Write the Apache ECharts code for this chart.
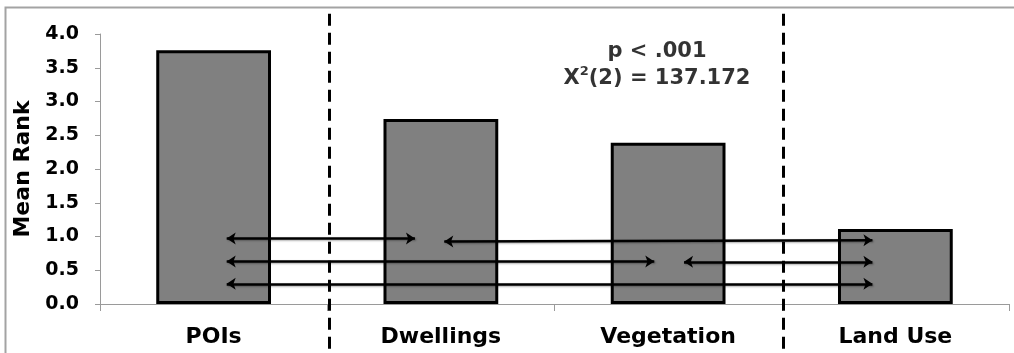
<!DOCTYPE html>
<html>
<head>
<meta charset="utf-8">
<script src="https://cdn.jsdelivr.net/npm/echarts@6/dist/echarts.min.js"></script>
<style>
html,body{margin:0;padding:0;background:#fff;}
#chart{width:1014px;height:353px;}
</style>
</head>
<body>
<div id="chart"></div>
<script>
// ---- data ----
const categories = ['POIs', 'Dwellings', 'Vegetation', 'Land Use'];
const meanRanks = [3.76, 2.74, 2.39, 1.11];
const yMin = 0, yMax = 4, yStep = 0.5;
// pairwise comparison arrows, in (category-position, mean-rank) units
const arrowStarts = [[0.5575, 0.97], [1.515, 0.925], [0.5575, 0.63], [2.570, 0.625], [0.5575, 0.30]];
const arrowEnds   = [[1.386, 0.97], [3.399, 0.945], [2.439, 0.63], [3.399, 0.625], [3.399, 0.30]];
// dashed group dividers, in category-position units
const dividerX = [1.01, 3.005];
const dividerYRange = [4.30, -0.8];
// statistics annotation
const statLine1 = 'p < .001';
const statChi = 'Χ';
const statSup = '2';
const statRest = '(2) = 137.172';
const statAnchor = [2.451, 3.54];

const FONT = 'DejaVu Sans';
const chart = echarts.init(document.getElementById('chart'), null, {renderer: 'canvas'});

const option = {
  animation: false,
  backgroundColor: '#ffffff',
  textStyle: {fontFamily: FONT, fontWeight: 'bold', color: '#000'},
  graphic: [{
    type: 'rect', silent: true, z: -10,
    shape: {x: 5.5, y: 7.5, width: 1100, height: 400},
    style: {fill: 'none', stroke: '#a3a3a3', lineWidth: 2}
  }],
  grid: {left: 100, right: 5, top: 34, bottom: 49, containLabel: false, outerBoundsMode: 'none'},
  xAxis: [{
    type: 'category',
    data: categories,
    boundaryGap: true,
    axisLine: {show: true, lineStyle: {color: '#9a9a9a', width: 1}},
    axisTick: {show: true, length: 7, alignWithLabel: false, lineStyle: {color: '#9a9a9a'}},
    axisLabel: {fontFamily: FONT, fontWeight: 'bold', fontSize: 22, color: '#000', margin: 22, interval: 0},
    splitLine: {show: false}
  }, {
    type: 'value', min: 0, max: categories.length, show: false, position: 'bottom'
  }],
  yAxis: [{
    type: 'value',
    min: yMin, max: yMax, interval: yStep,
    name: 'Mean Rank',
    nameLocation: 'middle',
    nameGap: 60,
    nameRotate: 90,
    nameTextStyle: {fontFamily: FONT, fontWeight: 'bold', fontSize: 22, color: '#000'},
    axisLine: {show: true, lineStyle: {color: '#9a9a9a', width: 1}},
    axisTick: {show: true, length: 5, lineStyle: {color: '#9a9a9a'}},
    axisLabel: {fontFamily: FONT, fontWeight: 'bold', fontSize: 19, color: '#000', margin: 21,
      formatter: v => v.toFixed(1)},
    splitLine: {show: false}
  }],
  series: [{
    type: 'bar',
    data: meanRanks,
    barWidth: '50.5%',
    itemStyle: {color: '#808080', borderColor: '#000', borderWidth: 3},
    silent: true,
    z: 2
  }, {
    type: 'lines',
    coordinateSystem: 'cartesian2d',
    xAxisIndex: 1, yAxisIndex: 0,
    clip: false,
    silent: true,
    z: 5,
    symbol: ['arrow', 'arrow'],
    symbolSize: 9,
    lineStyle: {color: '#000', width: 2.5, opacity: 1, curveness: 0,
      shadowColor: 'rgba(0,0,0,0.35)', shadowBlur: 2, shadowOffsetX: 1, shadowOffsetY: 1},
    data: arrowStarts.map((s, i) => ({coords: [s, arrowEnds[i]]}))
  }, {
    type: 'lines',
    coordinateSystem: 'cartesian2d',
    xAxisIndex: 1, yAxisIndex: 0,
    clip: false,
    silent: true,
    z: 6,
    symbol: ['none', 'none'],
    lineStyle: {color: '#000', width: 3, opacity: 1, type: [12, 7]},
    data: dividerX.map(x => ({coords: [[x, dividerYRange[0]], [x, dividerYRange[1]]]}))
  }, {
    type: 'scatter',
    xAxisIndex: 1, yAxisIndex: 0,
    silent: true,
    symbolSize: 1,
    itemStyle: {color: 'rgba(0,0,0,0)'},
    z: 7,
    data: [statAnchor],
    label: {
      show: true,
      position: 'inside',
      align: 'center',
      verticalAlign: 'middle',
      formatter: '{a|' + statLine1 + '}\n{a|' + statChi + '}{s|' + statSup + '}{a|' + statRest + '}',
      rich: {
        a: {fontFamily: FONT, fontWeight: 'bold', fontSize: 21, color: '#000', lineHeight: 27},
        s: {fontFamily: FONT, fontWeight: 'bold', fontSize: 13, color: '#000', lineHeight: 15, verticalAlign: 'top'}
      }
    }
  }]
};
chart.setOption(option);
</script>
</body>
</html>
